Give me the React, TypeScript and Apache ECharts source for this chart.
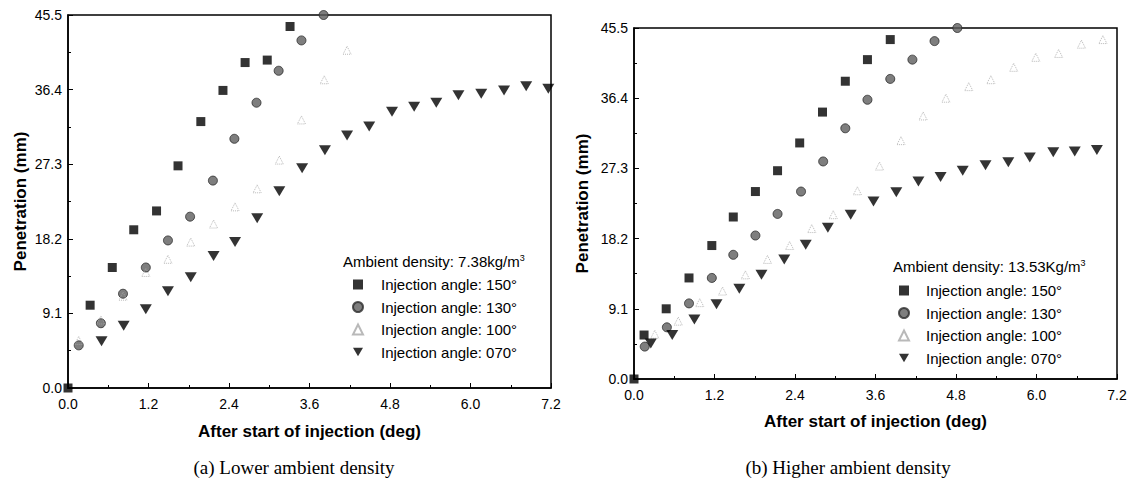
import React, { useEffect, useRef } from "react";
import * as echarts from "echarts";

// ---------- data ----------
const seriesNames = [
  "Injection angle: 150°",
  "Injection angle: 130°",
  "Injection angle: 100°",
  "Injection angle: 070°",
];

const xTickLabels = ["0.0", "1.2", "2.4", "3.6", "4.8", "6.0", "7.2"];
const yTickLabels = ["0.0", "9.1", "18.2", "27.3", "36.4", "45.5"];

const headerLeft = "Ambient density: 7.38kg/m";
const headerRight = "Ambient density: 13.53Kg/m";
const captionLeft = "(a) Lower ambient density";
const captionRight = "(b) Higher ambient density";

// (a) Lower ambient density
const low150: [number, number][] = [
  [0, 0], [0.33, 10.1], [0.66, 14.7], [0.98, 19.3], [1.32, 21.6], [1.64, 27.1],
  [1.98, 32.5], [2.31, 36.3], [2.64, 39.7], [2.97, 40.0], [3.31, 44.1],
];
const low130: [number, number][] = [
  [0.16, 5.2], [0.49, 7.9], [0.82, 11.5], [1.16, 14.7], [1.49, 18.0], [1.82, 20.9],
  [2.16, 25.3], [2.48, 30.4], [2.81, 34.8], [3.14, 38.7], [3.48, 42.4], [3.81, 45.5],
];
const low100: [number, number][] = [
  [0.16, 5.8], [0.49, 8.3], [0.82, 11.2], [1.16, 14.1], [1.49, 15.7], [1.83, 17.8],
  [2.17, 20.0], [2.49, 22.1], [2.82, 24.3], [3.15, 27.8], [3.48, 32.7], [3.82, 37.6],
  [4.16, 41.2],
];
const low070: [number, number][] = [
  [0.5, 5.7], [0.83, 7.6], [1.16, 9.6], [1.49, 11.8], [1.83, 13.5], [2.17, 16.1],
  [2.49, 17.8], [2.82, 20.7], [3.15, 24.0], [3.49, 26.8], [3.83, 29.0], [4.16, 30.8],
  [4.49, 31.9], [4.83, 33.7], [5.16, 34.3], [5.49, 34.8], [5.82, 35.7], [6.16, 35.9],
  [6.5, 36.3], [6.83, 36.8], [7.16, 36.5],
];

// (b) Higher ambient density
const high150: [number, number][] = [
  [0, 0], [0.15, 5.7], [0.48, 9.1], [0.82, 13.1], [1.16, 17.3], [1.48, 21.0],
  [1.81, 24.3], [2.14, 27.0], [2.47, 30.6], [2.81, 34.6], [3.15, 38.6], [3.48, 41.4],
  [3.82, 44.0],
];
const high130: [number, number][] = [
  [0.16, 4.2], [0.49, 6.7], [0.82, 9.8], [1.16, 13.1], [1.48, 16.1], [1.81, 18.6],
  [2.14, 21.4], [2.49, 24.3], [2.82, 28.2], [3.15, 32.5], [3.48, 36.2], [3.82, 38.9],
  [4.15, 41.4], [4.48, 43.8], [4.82, 45.5],
];
const high100: [number, number][] = [
  [0.31, 5.8], [0.66, 7.5], [0.98, 9.9], [1.32, 11.4], [1.66, 13.5], [1.99, 15.5],
  [2.32, 17.3], [2.65, 19.5], [2.97, 21.3], [3.33, 24.4], [3.66, 27.6], [3.98, 30.9],
  [4.31, 34.1], [4.65, 36.4], [4.99, 37.9], [5.32, 38.8], [5.66, 40.4], [5.99, 41.7],
  [6.33, 42.2], [6.67, 43.4], [6.99, 44.0],
];
const high070: [number, number][] = [
  [0.25, 4.6], [0.57, 5.7], [0.9, 7.7], [1.23, 9.7], [1.57, 11.7], [1.9, 13.5],
  [2.24, 15.5], [2.56, 17.4], [2.89, 19.6], [3.23, 21.3], [3.57, 23.0], [3.91, 24.2],
  [4.24, 25.6], [4.57, 26.2], [4.9, 27.0], [5.24, 27.7], [5.58, 28.1], [5.9, 28.7],
  [6.25, 29.4], [6.57, 29.5], [6.9, 29.7],
];

// ---------- styling ----------
const SANS = "'Liberation Sans', Arial, sans-serif";
const SERIF = "'Liberation Serif', 'Times New Roman', serif";
const DOWN_TRIANGLE = "path://M0,0L20,0L10,17Z";

const markerStyles = [
  { symbol: "rect", symbolSize: 9, itemStyle: { color: "#000" } },
  {
    symbol: "circle", symbolSize: 9,
    itemStyle: { color: "#5e5e5e", borderColor: "#2a2a2a", borderWidth: 1 },
  },
  {
    symbol: "triangle", symbolSize: 8,
    itemStyle: {
      color: "rgba(255,255,255,0)", borderColor: "#a8a8a8",
      borderWidth: 1, borderType: "dotted",
    },
  },
  { symbol: DOWN_TRIANGLE, symbolSize: [12, 10], itemStyle: { color: "#000" } },
];

const legendIcons = ["rect", "circle", "triangle", DOWN_TRIANGLE];

function makeAxes(idx: number, nameGapX: number, nameGapY: number) {
  const x = {
    type: "value", gridIndex: idx, min: 0, max: 7.2, interval: 1.2,
    name: "After start of injection (deg)", nameLocation: "middle", nameGap: nameGapX,
    nameTextStyle: { fontFamily: SANS, fontSize: 17, fontWeight: "bold", color: "#000" },
    axisLine: { show: true, onZero: false, lineStyle: { color: "#000", width: 1.5 } },
    axisTick: { show: true, inside: true, length: 5, lineStyle: { color: "#000" } },
    minorTick: { show: true, splitNumber: 2, length: 3, lineStyle: { color: "#000" } },
    splitLine: { show: false },
    axisLabel: {
      fontFamily: SANS, fontSize: 14, color: "#000", margin: 9,
      formatter: (v: number) => xTickLabels[Math.round(v / 1.2)] ?? v.toFixed(1),
    },
  };
  const y = {
    type: "value", gridIndex: idx, min: 0, max: 45.5, interval: 9.1,
    name: "Penetration (mm)", nameLocation: "middle", nameGap: nameGapY,
    nameTextStyle: { fontFamily: SANS, fontSize: 17, fontWeight: "bold", color: "#000" },
    axisLine: { show: true, onZero: false, lineStyle: { color: "#000", width: 1.5 } },
    axisTick: { show: true, inside: true, length: 5, lineStyle: { color: "#000" } },
    minorTick: { show: true, splitNumber: 2, length: 3, lineStyle: { color: "#000" } },
    splitLine: { show: false },
    axisLabel: {
      fontFamily: SANS, fontSize: 14, color: "#000", margin: 6,
      formatter: (v: number) => yTickLabels[Math.round(v / 9.1)] ?? v.toFixed(1),
    },
  };
  return { x, y };
}

function makeSeries(idx: number, sets: [number, number][][]) {
  return sets.map((data, i) => ({
    type: "scatter",
    name: seriesNames[i],
    xAxisIndex: idx,
    yAxisIndex: idx,
    data,
    clip: false,
    ...markerStyles[i],
  }));
}

function header(text: string, left: number, top: number) {
  return {
    type: "text",
    left,
    top,
    style: {
      text: `{a|${text}}{s|3}`,
      rich: {
        a: { fontFamily: SANS, fontSize: 15, fill: "#000", lineHeight: 17 },
        s: { fontFamily: SANS, fontSize: 9, fill: "#000", verticalAlign: "top", lineHeight: 17 },
      },
    },
  };
}

function caption(text: string, cx: number, cy: number) {
  return {
    type: "text",
    x: cx,
    y: cy,
    style: {
      text,
      fontFamily: SERIF,
      fontSize: 19,
      fill: "#000",
      align: "center",
      verticalAlign: "middle",
    },
  };
}

export default function App() {
  const ref = useRef<HTMLDivElement>(null);

  useEffect(() => {
    if (!ref.current) return;
    const chart = echarts.init(ref.current, undefined, { renderer: "svg" });
    const a0 = makeAxes(0, 35, 39);
    const a1 = makeAxes(1, 34, 43);
    const legendData = seriesNames.map((name, i) => ({ name, icon: legendIcons[i] }));
    const legendBase = {
      orient: "vertical",
      data: legendData,
      itemWidth: 10,
      itemHeight: 10,
      itemGap: 5.5,
      padding: 0,
      selectedMode: false,
    };
    chart.setOption({
      animation: false,
      backgroundColor: "#fff",
      grid: [
        { left: 68, top: 15, width: 483, height: 373, show: true, borderColor: "#000", borderWidth: 1.5, backgroundColor: "transparent" },
        { left: 634, top: 28, width: 483, height: 351, show: true, borderColor: "#000", borderWidth: 1.5, backgroundColor: "transparent" },
      ],
      xAxis: [a0.x, a1.x],
      yAxis: [a0.y, a1.y],
      legend: [
        {
          ...legendBase, left: 352, top: 276,
          textStyle: { fontFamily: SANS, fontSize: 15, color: "#000", lineHeight: 17, padding: [0, 0, 0, 13] },
        },
        {
          ...legendBase, left: 898, top: 282,
          textStyle: { fontFamily: SANS, fontSize: 15, color: "#000", lineHeight: 17, padding: [0, 0, 0, 12] },
        },
      ],
      series: [
        ...makeSeries(0, [low150, low130, low100, low070]),
        ...makeSeries(1, [high150, high130, high100, high070]),
      ],
      graphic: [
        header(headerLeft, 343, 253),
        header(headerRight, 893, 258),
        caption(captionLeft, 294, 467),
        caption(captionRight, 848, 467),
      ],
    });
    return () => chart.dispose();
  }, []);

  return (
    <div
      ref={ref}
      style={{ position: "absolute", left: 0, top: 0, width: 1140, height: 481, background: "#fff" }}
    />
  );
}
